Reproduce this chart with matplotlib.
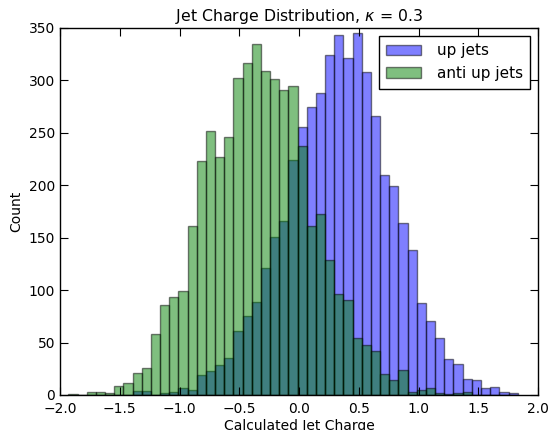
import numpy as np
import matplotlib
matplotlib.use("Agg")
import matplotlib.pyplot as plt

# 49 bins between the data min and max
bin_lo, bin_hi, n_bins = -1.93, 1.83, 49

up_counts = [0, 0, 0, 0, 0, 0, 0, 4, 4, 0,
             2, 3, 7, 5, 19, 23, 29, 35, 61, 75,
             89, 121, 151, 166, 224, 256, 275, 288, 324, 343,
             321, 345, 308, 266, 210, 199, 164, 138, 88, 71,
             54, 34, 30, 15, 14, 7, 8, 3, 2]

anti_counts = [1, 0, 3, 3, 2, 9, 11, 21, 26, 58,
               86, 93, 99, 161, 223, 252, 227, 246, 302, 317,
               335, 309, 301, 291, 295, 237, 161, 173, 129, 96,
               91, 54, 48, 42, 20, 14, 24, 3, 5, 7,
               2, 1, 2, 3, 0, 0, 0, 0, 0]

edges = np.linspace(bin_lo, bin_hi, n_bins + 1)
centers = 0.5 * (edges[:-1] + edges[1:])

plt.rcParams['font.family'] = ['DejaVu Sans']
fig = plt.figure(figsize=(5.49, 4.30), dpi=100)
ax = fig.add_axes([60/549, 35/430, 478/549, 367/430])

ax.hist(centers, bins=edges, weights=up_counts, color='b', alpha=0.5,
        edgecolor='black', linewidth=1.0, label='up jets')
ax.hist(centers, bins=edges, weights=anti_counts, color='g', alpha=0.5,
        edgecolor='black', linewidth=1.0, label='anti up jets')

ax.set_xlim(-2.0, 2.0)
ax.set_ylim(0, 350)
ax.set_xticks(np.arange(-2.0, 2.01, 0.5))
ax.set_yticks(np.arange(0, 351, 50))
ax.tick_params(direction='in', top=True, right=True, length=6, labelsize=10)
ax.tick_params(axis='x', pad=5)
for s in ax.spines.values():
    s.set_linewidth(1.0)

ax.set_title(r'Jet Charge Distribution, $\kappa$ = 0.3', fontsize=11.3, pad=5)
ax.set_xlabel('Calculated Jet Charge', fontsize=10, labelpad=2)
ax.set_ylabel('Count', fontsize=10)

leg = ax.legend(loc='upper right', fontsize=11, fancybox=False,
                framealpha=1, edgecolor='black', borderaxespad=0.5,
                handlelength=2.3, handletextpad=1.0, borderpad=0.5)
leg.get_frame().set_linewidth(1.0)

fig.savefig('out.png', dpi=100, facecolor='white')
